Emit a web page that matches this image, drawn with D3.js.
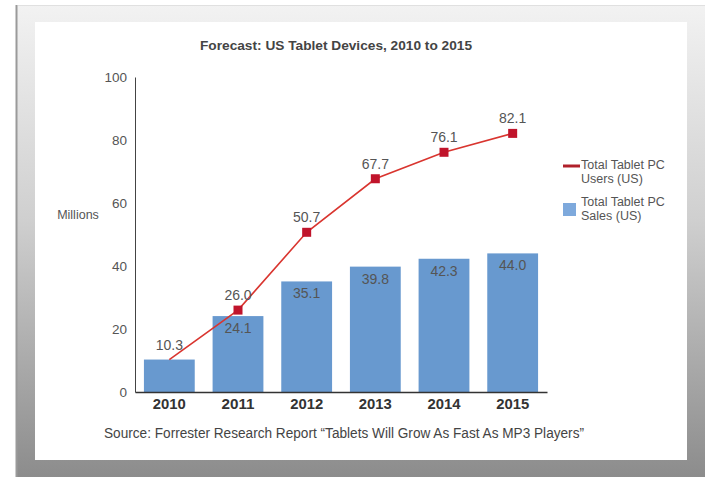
<!DOCTYPE html>
<html>
<head>
<meta charset="utf-8">
<script src="https://cdn.jsdelivr.net/npm/d3@7"></script>
<style>
  body { margin: 0; background: #fff; }
  svg { display: block; }
  text { font-family: "Liberation Sans", Arial, sans-serif; }
</style>
</head>
<body>
<svg id="chart" width="705" height="477"></svg>
<script>
// chart values
const years = ["2010", "2011", "2012", "2013", "2014", "2015"];
const sales = [10.3, 24.1, 35.1, 39.8, 42.3, 44.0];
const users = [10.3, 26.0, 50.7, 67.7, 76.1, 82.1];
const y_ticks = [0, 20, 40, 60, 80, 100];
const legend_labels = [["Total Tablet PC", "Users (US)"], ["Total Tablet PC", "Sales (US)"]];

const svg = d3.select("#chart");

// picture frame: grey bevel with a white card inside
const defs = svg.append("defs");
const grad = defs.append("linearGradient").attr("id", "frame")
  .attr("x1", 0).attr("y1", 0).attr("x2", 0).attr("y2", 1);
grad.append("stop").attr("offset", "0%").attr("stop-color", "#f2f2f2");
grad.append("stop").attr("offset", "45%").attr("stop-color", "#cfcfcf");
grad.append("stop").attr("offset", "100%").attr("stop-color", "#8a8a8a");

svg.append("rect").attr("x", 16).attr("y", 5).attr("width", 700).attr("height", 480)
  .attr("fill", "url(#frame)");
svg.append("line").attr("x1", 16.5).attr("x2", 16.5).attr("y1", 5).attr("y2", 477)
  .attr("stroke", "#9a9a9a").attr("stroke-width", 2);
svg.append("line").attr("x1", 18).attr("x2", 705).attr("y1", 5.5).attr("y2", 5.5)
  .attr("stroke", "#e0e0e0").attr("stroke-width", 1);
svg.append("rect").attr("x", 35).attr("y", 22).attr("width", 652).attr("height", 438)
  .attr("fill", "#fff");

// scales
const x = d3.scaleBand().domain(years).range([135, 547])
  .paddingInner(0.26).paddingOuter(0.13);
const y = d3.scaleLinear().domain([0, 100]).range([392, 77]);

// title (narrow bold face in the original, squeezed to the same width)
svg.append("text").attr("x", 336).attr("y", 50).attr("text-anchor", "middle")
  .style("font-weight", "bold").style("font-size", "13.5px").attr("fill", "#444")
  .attr("textLength", 272).attr("lengthAdjust", "spacingAndGlyphs")
  .text("Forecast: US Tablet Devices, 2010 to 2015");

// bars
svg.selectAll("rect.bar").data(years).enter().append("rect")
  .attr("class", "bar")
  .attr("x", d => x(d))
  .attr("width", x.bandwidth())
  .attr("y", (d, i) => y(sales[i]))
  .attr("height", (d, i) => y(0) - y(sales[i]))
  .attr("fill", "#6899cf");

// y axis
const yAxis = svg.append("g").attr("transform", "translate(135,0)")
  .call(d3.axisLeft(y).tickValues(y_ticks).tickSize(0).tickPadding(8));
yAxis.select(".domain").attr("stroke", "#444");
yAxis.selectAll("text").style("font-size", "13.5px").attr("fill", "#555")
  .style("font-family", "'Liberation Sans', sans-serif");

// x axis
const xAxis = svg.append("g").attr("transform", "translate(0,392)")
  .call(d3.axisBottom(x).tickSize(0).tickPadding(7));
xAxis.select(".domain").attr("stroke", "#333").attr("stroke-width", 1.5);
xAxis.selectAll("text").style("font-size", "14px").style("font-weight", "bold")
  .attr("fill", "#333").style("font-family", "'Liberation Sans', sans-serif")
  .attr("textLength", 33).attr("lengthAdjust", "spacingAndGlyphs");

svg.append("text").attr("x", 78).attr("y", 219).attr("text-anchor", "middle")
  .style("font-size", "12.5px").attr("fill", "#555").text("Millions");

// users line
const line = d3.line().x((d, i) => x(years[i]) + x.bandwidth() / 2).y(d => y(d));
svg.append("path").datum(users).attr("d", line)
  .attr("fill", "none").attr("stroke", "#d9352f").attr("stroke-width", 1.6);

svg.selectAll("rect.mark").data(users.slice(1)).enter().append("rect")
  .attr("class", "mark")
  .attr("x", (d, i) => x(years[i + 1]) + x.bandwidth() / 2 - 4.5)
  .attr("y", d => y(d) - 4.5)
  .attr("width", 9).attr("height", 9)
  .attr("fill", "#c0142b");

// value labels
const label_style = sel => sel.attr("text-anchor", "middle").style("font-size", "14px")
  .attr("fill", "#555");

svg.selectAll("text.ulab").data(users).enter().append("text")
  .attr("class", "ulab")
  .attr("x", (d, i) => x(years[i]) + x.bandwidth() / 2)
  .attr("y", d => y(d) - 10)
  .text(d => d.toFixed(1))
  .call(label_style);

svg.selectAll("text.slab").data(sales.slice(1)).enter().append("text")
  .attr("class", "slab")
  .attr("x", (d, i) => x(years[i + 1]) + x.bandwidth() / 2)
  .attr("y", d => y(d) + 17)
  .text(d => d.toFixed(1))
  .call(label_style);

// legend
svg.append("line").attr("x1", 563).attr("x2", 580).attr("y1", 166).attr("y2", 166)
  .attr("stroke", "#b0202a").attr("stroke-width", 3);
svg.append("rect").attr("x", 563).attr("y", 203).attr("width", 13).attr("height", 13)
  .attr("fill", "#7ea9dc");
legend_labels.forEach((lines, k) => {
  const t = svg.append("text").attr("x", 581).attr("y", 169 + k * 37)
    .style("font-size", "12.5px").attr("fill", "#555");
  lines.forEach((s, j) => t.append("tspan").attr("x", 581).attr("dy", j ? 13.5 : 0).text(s));
});

// source note
svg.append("text").attr("x", 344).attr("y", 438).attr("text-anchor", "middle")
  .style("font-size", "14px").attr("fill", "#444")
  .attr("textLength", 480).attr("lengthAdjust", "spacingAndGlyphs")
  .text("Source: Forrester Research Report \u201cTablets Will Grow As Fast As MP3 Players\u201d");
</script>
</body>
</html>
